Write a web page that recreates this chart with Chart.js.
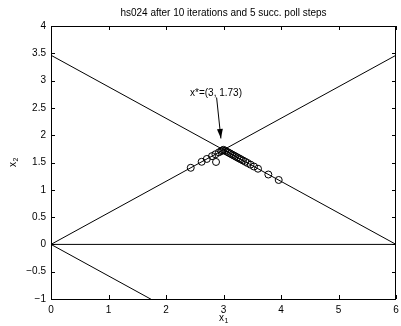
<!DOCTYPE html>
<html>
<head>
<meta charset="utf-8">
<script src="https://cdn.jsdelivr.net/npm/chart.js@4"></script>
<style>
  html, body { margin: 0; padding: 0; background: #fff; }
  #wrap { width: 401px; height: 326px; }
</style>
</head>
<body>
<div id="wrap"><canvas id="hs024"></canvas></div>
<script>
// constraint lines of hs024
const upLineX = [0, 6];
const upLineY = [0, 3.464];
const downLineX = [0, 6];
const downLineY = [3.464, 0];
const lowLineX = [0, 6];
const lowLineY = [0, -3.464];
const zeroLineX = [0, 6];
const zeroLineY = [0, 0];

// poll points
const pollX = [2.43, 2.62, 2.71, 2.80, 2.87, 2.86, 2.92, 2.96, 2.98,
               3.00, 3.03, 3.06, 3.09, 3.12, 3.15, 3.18, 3.21, 3.24, 3.27,
               3.30, 3.34, 3.38, 3.42, 3.47, 3.53, 3.60, 3.78, 3.96];
const pollY = [1.403, 1.513, 1.565, 1.617, 1.51, 1.651, 1.686, 1.709, 1.721,
               1.732, 1.715, 1.697, 1.680, 1.663, 1.645, 1.628, 1.611, 1.593, 1.576,
               1.559, 1.536, 1.513, 1.490, 1.461, 1.426, 1.386, 1.28, 1.18];

const xTicks = [0, 1, 2, 3, 4, 5, 6];
const yTicks = [-1, -0.5, 0, 0.5, 1, 1.5, 2, 2.5, 3, 3.5, 4];

const noteText = 'x*=(3, 1.73)';
const noteAt = [2.87, 2.77];
const arrowFrom = [2.88, 2.69];
const arrowTo = [2.955, 1.94];

function pts(xs, ys) {
    return xs.map((x, i) => ({x: x, y: ys[i]}));
}
function lineSet(xs, ys) {
    return {
        data: pts(xs, ys),
        showLine: true,
        borderColor: '#000',
        borderWidth: 1,
        pointRadius: 0,
        fill: false
    };
}
const fmt = v => String(v).replace('-', '\u2212');

const frame = {
    id: 'frame',
    afterDraw(chart) {
        const c = chart.ctx, a = chart.chartArea;
        const sx = chart.scales.x, sy = chart.scales.y;
        c.save();
        c.strokeStyle = '#000';
        c.lineWidth = 1;
        c.strokeRect(a.left + 0.5, a.top + 0.5, a.right - a.left - 1, a.bottom - a.top);
        c.beginPath();
        xTicks.forEach(t => {
            const p = Math.round(sx.getPixelForValue(t)) + 0.5;
            c.moveTo(p, a.bottom); c.lineTo(p, a.bottom - 4);
            c.moveTo(p, a.top); c.lineTo(p, a.top + 4);
        });
        yTicks.forEach(t => {
            const p = Math.round(sy.getPixelForValue(t)) + 0.5;
            c.moveTo(a.left, p); c.lineTo(a.left + 4, p);
            c.moveTo(a.right, p); c.lineTo(a.right - 4, p);
        });
        c.stroke();

        // title
        c.fillStyle = '#000';
        c.font = '10px "Liberation Sans", Arial, sans-serif';
        c.textAlign = 'center';
        c.textBaseline = 'middle';
        c.fillText('hs024 after 10 iterations and 5 succ. poll steps', (a.left + a.right) / 2, 13);

        // x1 label
        const cx = (a.left + a.right) / 2;
        c.font = '10px "Liberation Sans", Arial, sans-serif';
        c.fillText('x', cx - 2, 318);
        c.font = '7px "Liberation Sans", Arial, sans-serif';
        c.fillText('1', cx + 3, 321);

        // x2 label
        c.save();
        c.translate(13, (a.top + a.bottom) / 2);
        c.rotate(-Math.PI / 2);
        c.font = '10px "Liberation Sans", Arial, sans-serif';
        c.fillText('x', -2, 0);
        c.font = '7px "Liberation Sans", Arial, sans-serif';
        c.fillText('2', 3, 3);
        c.restore();

        // annotation
        c.font = '10px "Liberation Sans", Arial, sans-serif';
        c.fillText(noteText, sx.getPixelForValue(noteAt[0]), sy.getPixelForValue(noteAt[1]));
        const x0 = sx.getPixelForValue(arrowFrom[0]), y0 = sy.getPixelForValue(arrowFrom[1]);
        const x1 = sx.getPixelForValue(arrowTo[0]), y1 = sy.getPixelForValue(arrowTo[1]);
        const ang = Math.atan2(y1 - y0, x1 - x0);
        c.beginPath();
        c.moveTo(x0, y0); c.lineTo(x1, y1);
        c.stroke();
        c.beginPath();
        c.moveTo(x1, y1);
        c.lineTo(x1 - 10 * Math.cos(ang - 0.3), y1 - 10 * Math.sin(ang - 0.3));
        c.lineTo(x1 - 10 * Math.cos(ang + 0.3), y1 - 10 * Math.sin(ang + 0.3));
        c.closePath();
        c.fill();
        c.restore();
    }
};

const ctx = document.getElementById('hs024').getContext('2d');
const chart = new Chart(ctx, {
    type: 'scatter',
    data: {
        datasets: [
            lineSet(upLineX, upLineY),
            lineSet(downLineX, downLineY),
            lineSet(lowLineX, lowLineY),
            lineSet(zeroLineX, zeroLineY),
            {
                data: pts(pollX, pollY),
                pointStyle: 'circle',
                pointRadius: 3.5,
                pointBorderColor: '#000',
                pointBorderWidth: 1,
                pointBackgroundColor: 'rgba(0,0,0,0)',
                showLine: false
            }
        ]
    },
    options: {
        responsive: true,
        maintainAspectRatio: false,
        animation: false,
        layout: { padding: { top: 26, right: 2, left: 0, bottom: 0 } },
        plugins: { legend: { display: false }, tooltip: { enabled: false } },
        scales: {
            x: {
                type: 'linear', min: 0, max: 6,
                grid: { display: false, drawTicks: false },
                border: { display: false },
                afterFit: s => { s.height = 27; s.paddingLeft = 0; s.paddingRight = 0; },
                afterBuildTicks: s => { s.ticks = xTicks.map(v => ({value: v})); },
                ticks: {
                    color: '#000', padding: 5, maxRotation: 0,
                    font: { family: '"Liberation Sans", Arial, sans-serif', size: 10 },
                    callback: fmt
                }
            },
            y: {
                type: 'linear', min: -1, max: 4,
                grid: { display: false, drawTicks: false },
                border: { display: false },
                afterFit: s => { s.width = 51; s.paddingTop = 0; s.paddingBottom = 0; },
                afterBuildTicks: s => { s.ticks = yTicks.map(v => ({value: v})); },
                ticks: {
                    color: '#000', padding: 5,
                    font: { family: '"Liberation Sans", Arial, sans-serif', size: 10 },
                    callback: fmt
                }
            }
        }
    },
    plugins: [frame]
});
</script>
</body>
</html>
